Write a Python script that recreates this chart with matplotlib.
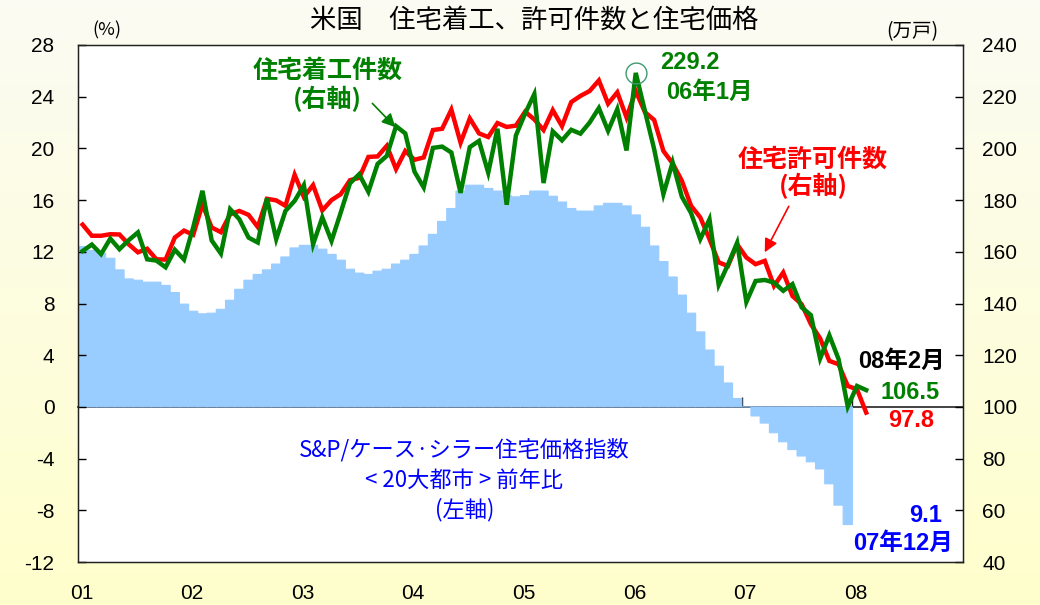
import numpy as np
import pandas as pd
import matplotlib
matplotlib.use("Agg")
import matplotlib.pyplot as plt

plt.rcParams["axes.unicode_minus"] = False

# ---------------- data ----------------
# S&P/Case-Shiller 20-city YoY (%), monthly Jan-2001 .. Dec-2007 (left axis)
hpi_yoy = [
    12.4, 12.1, 11.9, 11.5, 10.6, 9.9, 9.8, 9.65, 9.65, 9.4, 8.85, 7.95,
    7.4, 7.2, 7.25, 7.55, 8.25, 9.1, 9.8, 10.25, 10.6, 11.05, 11.6, 12.3,
    12.5, 12.5, 12.2, 11.8, 11.35, 10.65, 10.35, 10.25, 10.5, 10.65, 11.05, 11.35,
    11.8, 12.45, 13.35, 14.35, 15.35, 16.7, 17.15, 17.15, 16.9, 16.7, 16.35, 16.25,
    16.35, 16.7, 16.7, 16.3, 15.85, 15.35, 15.15, 15.15, 15.55, 15.75, 15.75, 15.55,
    14.85, 13.9, 12.45, 11.25, 10.05, 8.65, 7.25, 5.8, 4.4, 3.15, 1.85, 0.65,
    0.0, -0.7, -1.25, -2.0, -2.7, -3.3, -3.8, -4.25, -4.8, -5.95, -7.6, -9.1,
]
# Housing starts (10k units, SAAR), Jan-2001 .. Feb-2008 (right axis)
starts = [
    160.3, 162.8, 159.1, 165.1, 161.0, 164.5, 167.5, 157.1, 156.6, 154.0, 160.8, 157.0,
    169.5, 183.6, 164.4, 159.3, 176.5, 172.6, 165.5, 163.6, 180.7, 164.9, 175.8, 179.7,
    185.8, 162.9, 173.3, 164.2, 175.2, 186.5, 190.0, 183.2, 194.0, 197.1, 208.6, 205.8,
    191.0, 184.9, 200.2, 200.7, 198.4, 182.8, 200.5, 202.9, 190.6, 207.6, 178.2, 205.0,
    213.5, 221.0, 186.6, 206.6, 203.1, 207.2, 205.7, 210.0, 215.6, 206.8, 215.2, 199.2,
    229.2, 214.4, 199.7, 182.3, 194.6, 181.3, 175.0, 164.9, 172.6, 147.2, 155.0, 163.5,
    140.6, 148.7, 149.1, 148.1, 144.9, 147.5, 138.5, 135.5, 118.7, 127.7, 118.5, 100.1,
    108.1, 106.5,
]
# Building permits (10k units, SAAR), Jan-2001 .. Feb-2008 (right axis)
permits = [
    170.5, 166.2, 166.2, 166.8, 166.7, 162.9, 159.8, 161.2, 157.1, 157.0, 165.5, 168.2,
    166.6, 178.3, 169.4, 167.6, 174.5, 175.8, 174.3, 169.6, 180.5, 179.9, 177.8, 189.8,
    181.2, 185.8, 176.0, 180.0, 182.3, 187.7, 188.6, 196.7, 196.9, 201.0, 192.0, 199.0,
    195.6, 196.5, 207.1, 207.6, 215.0, 202.2, 211.6, 205.8, 204.4, 209.8, 208.3, 208.8,
    214.2, 211.2, 207.1, 214.8, 208.6, 217.9, 220.3, 222.2, 226.3, 217.3, 221.7, 212.0,
    222.2, 214.0, 211.0, 199.0, 194.2, 187.5, 177.8, 173.3, 164.9, 155.9, 154.5, 162.9,
    157.8, 155.2, 156.5, 146.8, 152.0, 142.9, 139.7, 132.0, 126.5, 117.8, 116.5, 108.1,
    106.8, 97.8,
]
year_labels = ["01", "02", "03", "04", "05", "06", "07", "08"]
year_ticks = [2001, 2002, 2003, 2004, 2005, 2006, 2007, 2008]

bar_months = pd.date_range("2001-01-01", periods=len(hpi_yoy), freq="MS")
line_months = pd.date_range("2001-01-01", periods=len(starts), freq="MS")
xb = bar_months.year + (bar_months.month - 1) / 12.0
xl = line_months.year + (line_months.month - 0.5) / 12.0

# ---------------- styling ----------------
CJK = ["Noto Sans CJK JP", "DejaVu Sans"]
NUM = ["Liberation Sans", "Noto Sans CJK JP", "DejaVu Sans"]
GREEN = "#008000"
RED = "#FF0000"
BLUE = "#0000FF"
BAR = "#99CCFF"

fig = plt.figure(figsize=(10.4, 6.05), dpi=100)

# background gradient
bg = fig.add_axes([0, 0, 1, 1], zorder=-10)
bg.axis("off")
top = np.array([0.985, 0.985, 0.955])
bot = np.array([1.0, 1.0, 0.80])
t = np.linspace(0, 1, 256)[:, None]
grad = (top[None, :] * (1 - t) + bot[None, :] * t)[:, None, :]
bg.imshow(grad, aspect="auto", extent=[0, 1, 0, 1])
bg.set_xlim(0, 1)
bg.set_ylim(0, 1)

L, R, B, T = 78 / 1040, 963 / 1040, 1 - 562 / 605, 1 - 45 / 605
ax = fig.add_axes([L, B, R - L, T - B])
ax.set_facecolor("white")

bars = ax.bar(xb, hpi_yoy, width=1 / 12.0, align="edge", color=BAR,
              edgecolor=BAR, linewidth=0.8, zorder=1)
for p in bars.patches:
    p.set_snap(False)
ax.set_xlim(2001, 2009)
ax.set_ylim(-12, 28)
ax.set_yticks(np.arange(-12, 29, 4))
ax.tick_params(axis="y", direction="in", length=6, width=1, pad=17, labelsize=15)
ax.set_xticks([y + 0.03 for y in year_ticks])
ax.set_xticklabels(year_labels)
ax.tick_params(axis="x", length=0, pad=16, labelsize=15)
for lab in ax.get_xticklabels() + ax.get_yticklabels():
    lab.set_fontfamily(NUM)
for sp in ax.spines.values():
    sp.set_color("#222222")
    sp.set_linewidth(1)

# zero line with upward year ticks
sec = ax.secondary_xaxis(0.3)
sec.set_xticks(year_ticks[1:])
sec.tick_params(direction="in", length=7, width=1, labelbottom=False, color="#222222")
sec.spines["bottom"].set_color("#222222")
sec.spines["bottom"].set_linewidth(1.2)

ax2 = ax.twinx()
ax2.set_ylim(40, 240)
ax2.set_yticks(np.arange(40, 241, 20))
ax2.tick_params(axis="y", direction="in", length=6, width=1, pad=14, labelsize=15)
for lab in ax2.get_yticklabels():
    lab.set_fontfamily(NUM)
for sp in ax2.spines.values():
    sp.set_color("#222222")

ax2.plot(xl, permits, color=RED, lw=3.2, solid_joinstyle="miter", zorder=3)
ax2.plot(xl, starts, color=GREEN, lw=3.2, solid_joinstyle="miter", zorder=4)

# circle around the starts peak
pk = int(np.argmax(starts))
ax2.plot([xl[pk]], [starts[pk]], marker="o", markersize=15, markerfacecolor="none",
         markeredgecolor="#3C9A70", markeredgewidth=1.0, zorder=5)

# ---------------- annotations ----------------
bold_cjk = dict(fontfamily=CJK, fontweight="bold", ha="center", va="center")
ax2.text(2003.253, 229.9, "住宅着工件数", color=GREEN, fontsize=18, **bold_cjk)
ax2.text(2003.253, 219.0, "(右軸)", color=GREEN, fontsize=18, **bold_cjk)
ax2.annotate("", xy=(2003.869, 208.2), xytext=(2003.661, 217.4),
             arrowprops=dict(arrowstyle="-|>", color=GREEN, lw=1.2, mutation_scale=20,
                             shrinkA=0, shrinkB=0))

ax2.text(2007.643, 195.8, "住宅許可件数", color=RED, fontsize=18, **bold_cjk)
ax2.text(2007.643, 185.3, "(右軸)", color=RED, fontsize=18, **bold_cjk)
ax2.annotate("", xy=(2007.208, 159.8), xytext=(2007.425, 177.6),
             arrowprops=dict(arrowstyle="-|>", color=RED, lw=1.2, mutation_scale=20,
                             shrinkA=0, shrinkB=0))

bold_num = dict(fontfamily=NUM, fontweight="bold", ha="center", va="center", fontsize=17)
ax2.text(2006.529, 233.3, f"{starts[pk]:.1f}", color=GREEN, **bold_num)
ax2.text(2006.71, 221.7, "06年1月", color=GREEN, **bold_num)
ax2.text(2008.448, 117.7, "08年2月", color="black", **bold_num)
ax2.text(2008.52, 105.7, f"{starts[-1]:.1f}", color=GREEN, **bold_num)
ax2.text(2008.53, 94.8, f"{permits[-1]:.1f}", color=RED, **bold_num)

reg_cjk = dict(fontfamily=CJK, ha="center", va="center", fontsize=16, color=BLUE)
ax.text(2004.493, -3.35, "S&P/ケース·シラー住宅価格指数", **reg_cjk)
ax.text(2004.493, -5.67, "< 20大都市 > 前年比", **reg_cjk)
ax.text(2004.493, -7.91, "(左軸)", **reg_cjk)
ax.text(2008.665, -8.38, f"{abs(hpi_yoy[-1]):.1f}", color=BLUE, **bold_num)
ax.text(2008.457, -10.55, "07年12月", color=BLUE, **bold_num)

fig.text(0.514, 0.967, "米国　住宅着工、許可件数と住宅価格", fontfamily=CJK,
         fontsize=19, ha="center", va="center", color="black")
fig.text(0.103, 0.950, "(%)", fontfamily=CJK, fontsize=13, ha="center", va="center")
fig.text(0.877, 0.947, "(万戸)", fontfamily=CJK, fontsize=14, ha="center", va="center")

fig.savefig("out.png", dpi=100)
